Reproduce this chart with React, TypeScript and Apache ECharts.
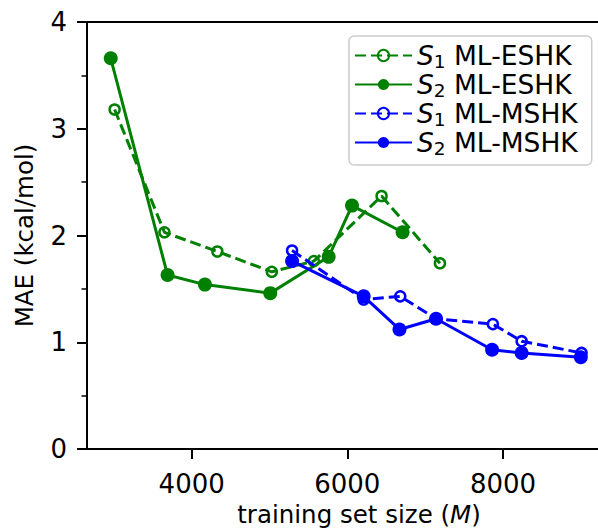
import React, { useEffect, useRef } from "react";
import * as echarts from "echarts";

const s1EshkX = [3010, 3650, 4330, 5030, 5570, 6440, 7190];
const s1EshkY = [3.18, 2.03, 1.85, 1.66, 1.76, 2.37, 1.74];
const s2EshkX = [2960, 3690, 4170, 5010, 5760, 6060, 6710];
const s2EshkY = [3.66, 1.63, 1.54, 1.46, 1.8, 2.28, 2.03];
const s1MshkX = [5290, 6210, 6680, 7140, 7870, 8240, 9010];
const s1MshkY = [1.86, 1.4, 1.43, 1.22, 1.17, 1.01, 0.9];
const s2MshkX = [5290, 6210, 6670, 7140, 7860, 8240, 9000];
const s2MshkY = [1.76, 1.43, 1.12, 1.22, 0.93, 0.9, 0.86];

const xTicks = [4000, 6000, 8000];
const seriesNames = ["S1 ML-ESHK", "S2 ML-ESHK", "S1 ML-MSHK", "S2 ML-MSHK"];

const GREEN = "#008000";
const BLUE = "#0000ff";
const FONT = "DejaVu Sans";
const TICK_FS = 26;
const NAME_FS = 24.5;
const LEG_FS = 26.5;

const pairs = (xs: number[], ys: number[]) => xs.map((x, i) => [x, ys[i]]);

function makeSeries(name: string, xs: number[], ys: number[], color: string, open: boolean, z: number) {
  return {
    name,
    type: "line",
    data: pairs(xs, ys),
    z,
    symbol: "circle",
    symbolSize: open ? 10 : 14,
    showSymbol: true,
    lineStyle: { color, width: 3, type: open ? [11, 5] : "solid" },
    itemStyle: open
      ? { color: "rgba(0,0,0,0)", borderColor: color, borderWidth: 2.5 }
      : { color, borderColor: color, borderWidth: 0 },
  };
}

export default function App() {
  const ref = useRef<HTMLDivElement>(null);
  useEffect(() => {
    if (!ref.current) return;
    const chart = echarts.init(ref.current, undefined, { renderer: "svg" });
    chart.setOption({
      animation: false,
      textStyle: { fontFamily: FONT },
      grid: {
        left: 87,
        right: -33,
        top: 22,
        bottom: 82,
        containLabel: false,
        outerBoundsMode: "none",
        show: true,
        borderColor: "#000",
        borderWidth: 2,
        backgroundColor: "transparent",
      },
      legend: {
        orient: "vertical",
        left: 349,
        top: 36,
        padding: [6, 14, 7, 5],
        itemGap: 0,
        itemWidth: 57,
        itemHeight: 14,
        borderColor: "#cccccc",
        borderWidth: 1.5,
        borderRadius: 5,
        backgroundColor: "rgba(255,255,255,0.8)",
        data: seriesNames,
        formatter: (name: string) => {
          const sub = name.charAt(1);
          const rest = name.slice(2);
          return `{i|S}{sub|${sub}}{n|${rest}}`;
        },
        textStyle: {
          fontFamily: FONT,
          fontSize: LEG_FS,
          color: "#000",
          rich: {
            i: { fontFamily: FONT, fontSize: LEG_FS, fontStyle: "italic", color: "#000" },
            sub: { fontFamily: FONT, fontSize: 18.5, color: "#000", padding: [12, 0, 0, 0] },
            n: { fontFamily: FONT, fontSize: LEG_FS, color: "#000" },
          },
        },
      },
      xAxis: {
        type: "value",
        min: 2655,
        max: 9645,
        splitLine: { show: false },
        axisLine: { show: true, lineStyle: { color: "#000", width: 2 } },
        axisTick: { show: true, length: 10, lineStyle: { color: "#000", width: 2 }, customValues: xTicks },
        axisLabel: {
          fontFamily: FONT,
          fontSize: TICK_FS,
          color: "#000",
          margin: 22,
          customValues: xTicks,
          formatter: (v: number) => String(v),
        },
        name: "training set size ({it|M})",
        nameLocation: "middle",
        nameGap: 51,
        nameTextStyle: {
          fontFamily: FONT,
          fontSize: NAME_FS,
          color: "#000",
          rich: {
            it: { fontFamily: FONT, fontSize: NAME_FS, fontStyle: "italic", color: "#000" },
          },
        },
      },
      yAxis: {
        type: "value",
        min: 0,
        max: 4,
        interval: 1,
        splitLine: { show: false },
        axisLine: { show: true, lineStyle: { color: "#000", width: 2 } },
        axisTick: { show: true, length: 10, lineStyle: { color: "#000", width: 2 } },
        minorTick: { show: true, splitNumber: 2, length: 5.5, lineStyle: { color: "#000", width: 1.5 } },
        minorSplitLine: { show: false },
        axisLabel: { fontFamily: FONT, fontSize: TICK_FS, color: "#000", margin: 20 },
        name: "MAE (kcal/mol)",
        nameLocation: "middle",
        nameGap: 50,
        nameTextStyle: { fontFamily: FONT, fontSize: NAME_FS, color: "#000" },
      },
      series: [
        makeSeries(seriesNames[0], s1EshkX, s1EshkY, GREEN, true, 2),
        makeSeries(seriesNames[1], s2EshkX, s2EshkY, GREEN, false, 3),
        makeSeries(seriesNames[2], s1MshkX, s1MshkY, BLUE, true, 4),
        makeSeries(seriesNames[3], s2MshkX, s2MshkY, BLUE, false, 5),
      ],
    });
    return () => chart.dispose();
  }, []);
  return (
    <div
      ref={ref}
      style={{ position: "fixed", left: 0, top: 0, width: 598, height: 531, background: "#fff" }}
    />
  );
}
